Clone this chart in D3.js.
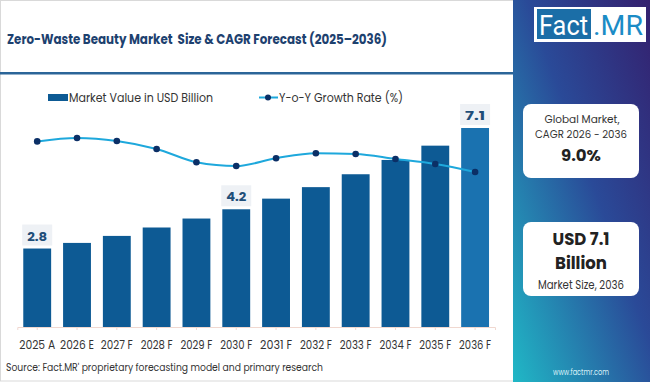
<!DOCTYPE html>
<html><head><meta charset="utf-8">
<script src="https://cdn.jsdelivr.net/npm/d3@7"></script>
<style>html,body{margin:0;padding:0;background:#fff;}svg{display:block;font-family:Poppins,"Open Sans",sans-serif;}text{white-space:pre;}</style>
</head><body>
<svg id="c" width="650" height="382"></svg>
<script>
const categories = ["2025 A","2026 E","2027 F","2028 F","2029 F","2030 F","2031 F","2032 F","2033 F","2034 F","2035 F","2036 F"];
const marketValue = [2.8,3.0,3.25,3.55,3.87,4.2,4.58,4.99,5.45,5.96,6.47,7.1];
const yoyGrowth = [9.43,9.6,9.45,9.05,8.39,8.2,8.59,8.84,8.8,8.55,8.3,7.9];
const labelled = ["2025 A","2030 F","2036 F"];

const svg = d3.select("#c");
function fit(sel, w){
  return sel.attr("textLength", w).attr("lengthAdjust","spacingAndGlyphs");
}
const defs = svg.append("defs");
const g = defs.append("linearGradient").attr("id","pg").attr("x1","1").attr("y1","0").attr("x2","0").attr("y2","1");
g.append("stop").attr("offset","0").attr("stop-color","#34206e");
g.append("stop").attr("offset","0.45").attr("stop-color","#2a4a98");
g.append("stop").attr("offset","1").attr("stop-color","#20b8c6");

svg.append("rect").attr("x",0.5).attr("y",0.5).attr("width",514).attr("height",380.5).attr("fill","none").attr("stroke","#d9d9d9");
svg.append("rect").attr("x",513).attr("y",0).attr("width",137).attr("height",382).attr("fill","url(#pg)");
svg.append("rect").attr("x",0).attr("y",72).attr("width",513).attr("height",2.5).attr("fill","#2b6598");
fit(svg.append("text").attr("x",7).attr("y",43.5).attr("font-size",14).attr("font-weight",700).attr("fill","#1d416f")
  .text("Zero-Waste Beauty Market  Size & CAGR Forecast (2025\u20132036)"), 380);

// logo
svg.append("rect").attr("x",534).attr("y",7).attr("width",112).attr("height",35).attr("fill","#fff");
svg.append("rect").attr("x",537).attr("y",9).attr("width",54).attr("height",30).attr("fill","#1b6ea7");
fit(svg.append("text").attr("x",539).attr("y",35).attr("font-size",27).attr("fill","#fff").attr("font-family","Roboto, sans-serif").text("Fact"),49);
fit(svg.append("text").attr("x",593).attr("y",35).attr("font-size",27).attr("fill","#1b8cc6").attr("font-family","Roboto, sans-serif").text(".MR"),50);

// cards
svg.append("rect").attr("x",523).attr("y",104).attr("width",116).attr("height",74).attr("rx",8).attr("fill","#fff");
fit(svg.append("text").attr("x",582).attr("y",123).attr("text-anchor","middle").attr("font-size",11).attr("fill","#333").text("Global Market,"),75);
fit(svg.append("text").attr("x",581).attr("y",138).attr("text-anchor","middle").attr("font-size",11).attr("fill","#333").text("CAGR 2026 - 2036"),92);
fit(svg.append("text").attr("x",581).attr("y",161).attr("text-anchor","middle").attr("font-size",16).attr("font-weight",700).attr("fill","#222").text("9.0%"),40);

svg.append("rect").attr("x",523).attr("y",222).attr("width",116).attr("height",74).attr("rx",8).attr("fill","#fff");
fit(svg.append("text").attr("x",581).attr("y",245).attr("text-anchor","middle").attr("font-size",17.5).attr("font-weight",700).attr("fill","#222").text("USD 7.1"),57);
fit(svg.append("text").attr("x",581).attr("y",269).attr("text-anchor","middle").attr("font-size",17.5).attr("font-weight",700).attr("fill","#222").text("Billion"),52);
fit(svg.append("text").attr("x",581).attr("y",289).attr("text-anchor","middle").attr("font-size",12).attr("fill","#333").text("Market Size, 2036"),86);
fit(svg.append("text").attr("x",581).attr("y",375).attr("text-anchor","middle").attr("font-size",8.5).attr("fill","#d8f0f7").text("www.factmr.com"),56);

// scales
const x = d3.scaleBand().domain(categories).range([17.3,495]).paddingInner(0.3).paddingOuter(0.15);
const y = d3.scaleLinear().domain([0,7.1]).range([327,128]);
const y2 = d3.scaleLinear().domain([6,11]).range([210,110]);

const ax = svg.append("g").attr("transform","translate(0,327)").call(d3.axisBottom(x).tickSize(3).tickPadding(10));
ax.select(".domain").attr("stroke","#f0d8d0");
ax.selectAll(".tick line").attr("stroke","#f0d8d0");
ax.selectAll("text").attr("font-size",12).attr("fill","#333").attr("font-family","Poppins,'Open Sans',sans-serif");
ax.selectAll(".tick text").each(function(d){ fit(d3.select(this), d.endsWith("A")?36:(d.endsWith("E")?34:32)); });

svg.append("g").selectAll("rect").data(categories).join("rect")
  .attr("x",d=>x(d)).attr("width",x.bandwidth())
  .attr("y",(d,i)=>y(marketValue[i])).attr("height",(d,i)=>327-y(marketValue[i]))
  .attr("fill",(d,i)=>i===categories.length-1?"#1a72b0":"#0d5a94");

const lab = svg.append("g").selectAll("g").data(categories.filter(c=>labelled.includes(c))).join("g");
lab.append("rect").attr("x",d=>x(d)+x.bandwidth()/2-15).attr("y",d=>y(marketValue[categories.indexOf(d)])-24)
  .attr("width",30).attr("height",21).attr("fill","#eef1f5");
lab.append("text").attr("x",d=>x(d)+x.bandwidth()/2).attr("y",d=>y(marketValue[categories.indexOf(d)])-8)
  .attr("text-anchor","middle").attr("font-size",13).attr("font-weight",700).attr("fill","#1f4e79")
  .attr("textLength",20).attr("lengthAdjust","spacingAndGlyphs")
  .text(d=>marketValue[categories.indexOf(d)].toFixed(1));

const line = d3.line().x((d,i)=>x(categories[i])+x.bandwidth()/2).y(d=>y2(d)).curve(d3.curveMonotoneX);
svg.append("path").datum(yoyGrowth).attr("d",line).attr("fill","none").attr("stroke","#1ea8dc").attr("stroke-width",2);
svg.append("g").selectAll("circle").data(yoyGrowth).join("circle")
  .attr("cx",(d,i)=>x(categories[i])+x.bandwidth()/2).attr("cy",d=>y2(d)).attr("r",3.3).attr("fill","#0b2f66");

svg.append("rect").attr("x",48).attr("y",94).attr("width",20).attr("height",7).attr("fill","#0d5a94");
fit(svg.append("text").attr("x",69).attr("y",101.5).attr("font-size",12).attr("fill","#333").text("Market Value in USD Billion"),144);
svg.append("line").attr("x1",259).attr("x2",278).attr("y1",97.5).attr("y2",97.5).attr("stroke","#1ea8dc").attr("stroke-width",2);
svg.append("circle").attr("cx",268).attr("cy",97.5).attr("r",3).attr("fill","#0b2f66");
fit(svg.append("text").attr("x",279).attr("y",101.5).attr("font-size",12).attr("fill","#333").text("Y-o-Y Growth Rate (%)"),124);

fit(svg.append("text").attr("x",6).attr("y",371).attr("font-size",11).attr("fill","#333").text("Source: Fact.MR' proprietary forecasting model and primary research"),317);
</script>
</body></html>
